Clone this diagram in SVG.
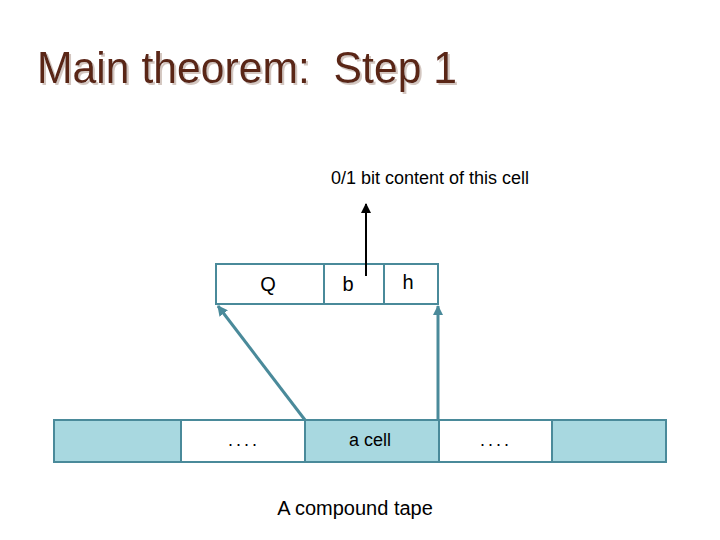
<svg xmlns="http://www.w3.org/2000/svg" width="720" height="540" viewBox="0 0 720 540">
<style>
.title{font-family:"Liberation Sans",Arial,sans-serif;font-size:45px;fill:#5a2518;white-space:pre}
.lbl{font-family:"Liberation Sans",Arial,sans-serif;font-size:20px;fill:#000;text-anchor:middle}
.sm{font-family:"Liberation Sans",Arial,sans-serif;font-size:18px;fill:#000;text-anchor:middle}
.dots{letter-spacing:3px}
.cell{stroke:#4a8a9a;stroke-width:2}
.blue{fill:#a8d8e0}
.white{fill:#ffffff}
.conn{stroke:#4a8a9a;stroke-width:3;fill:none}
</style>
<defs>
<filter id="sh" x="-5%" y="-20%" width="110%" height="140%">
<feDropShadow dx="2" dy="2" stdDeviation="0.5" flood-color="#c8b8b0" flood-opacity="0.8"/>
</filter>
<marker id="ah" viewBox="0 0 10 10" refX="9" refY="5" markerWidth="3.5" markerHeight="3.5" orient="auto" markerUnits="strokeWidth">
<path d="M0,0 L10,5 L0,10 z" fill="#4a8a9a"/>
</marker>
<marker id="ahb" viewBox="0 0 10 10" refX="9" refY="5" markerWidth="5" markerHeight="5" orient="auto" markerUnits="strokeWidth">
<path d="M0,0 L10,5 L0,10 z" fill="#000"/>
</marker>
</defs>
<rect width="720" height="540" fill="#ffffff"/>
<g id="title">
<text class="title" x="37" y="83" textLength="420" lengthAdjust="spacingAndGlyphs" filter="url(#sh)" xml:space="preserve">Main theorem:  Step 1</text>
</g>
<g id="state">
<rect class="cell white" x="216" y="264" width="108" height="40"/>
<text class="lbl" x="268" y="291">Q</text>
</g>
<g id="bit">
<rect class="cell white" x="324" y="264" width="60" height="40"/>
<text class="lbl" x="348" y="291">b</text>
</g>
<g id="head">
<rect class="cell white" x="384" y="264" width="54" height="40"/>
<text class="lbl" x="408" y="289">h</text>
</g>
<g id="tape1"><rect class="cell blue" x="54" y="420" width="127" height="42"/></g>
<g id="tape2"><rect class="cell white" x="181" y="420" width="124" height="42"/><text class="sm dots" x="244" y="446">....</text></g>
<g id="tape3"><rect class="cell blue" x="305" y="420" width="134" height="42"/><text class="sm" x="370" y="446">a cell</text></g>
<g id="tape4"><rect class="cell white" x="439" y="420" width="113" height="42"/><text class="sm dots" x="496" y="446">....</text></g>
<g id="tape5"><rect class="cell blue" x="552" y="420" width="114" height="42"/></g>
<g id="labels">
<text class="sm" x="430" y="184">0/1 bit content of this cell</text>
<text class="lbl" x="355" y="515">A compound tape</text>
</g>
<g id="connectors">
<line class="conn" x1="305" y1="420" x2="218" y2="306" marker-end="url(#ah)"/>
<line class="conn" x1="438" y1="420" x2="438" y2="306" marker-end="url(#ah)"/>
<line x1="366" y1="276" x2="366" y2="204" stroke="#000" stroke-width="2" marker-end="url(#ahb)"/>
</g>
</svg>
